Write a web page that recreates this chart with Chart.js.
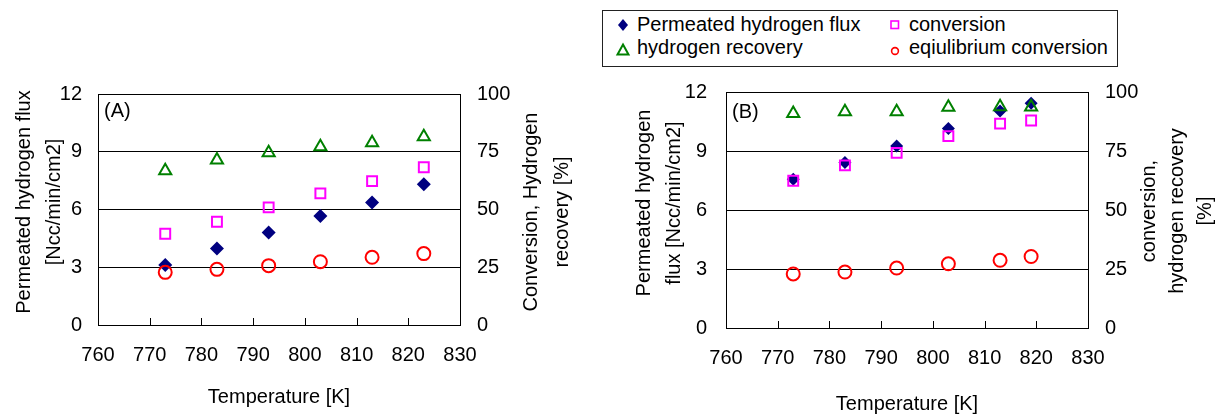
<!DOCTYPE html>
<html><head><meta charset="utf-8">
<script src="https://cdn.jsdelivr.net/npm/chart.js@4/dist/chart.umd.min.js"></script>
<style>
html,body{margin:0;padding:0;background:#fff;}
body{width:1223px;height:418px;position:relative;overflow:hidden;font-family:"Liberation Sans",Arial,sans-serif;}
canvas{position:absolute;top:0;}
#cA{left:0;} #cB{left:611px;}
#legend{position:absolute;left:602px;top:10px;width:516px;height:57px;border:1px solid #222;box-sizing:border-box;background:#fff;}
.li{position:absolute;font-size:20px;line-height:20px;white-space:nowrap;color:#000;}
#legend svg{position:absolute;overflow:visible;}
</style></head><body>
<canvas id="cA" width="611" height="418"></canvas>
<canvas id="cB" width="612" height="418"></canvas>
<div id="legend">
  <svg style="left:14px;top:7px" width="12" height="14"><polygon points="6,1 11,7 6,13 1,7" fill="#000080"/></svg>
  <div class="li" style="left:34px;top:3px">Permeated hydrogen flux</div>
  <svg style="left:13px;top:32px" width="14" height="13"><polygon points="7,1.5 12.5,11.5 1.5,11.5" fill="none" stroke="#008000" stroke-width="2"/></svg>
  <div class="li" style="left:34px;top:26px">hydrogen recovery</div>
  <svg style="left:286px;top:8px" width="12" height="12"><rect x="2" y="2" width="7.5" height="7.5" fill="none" stroke="#FF00FF" stroke-width="1.6"/></svg>
  <div class="li" style="left:306px;top:3px">conversion</div>
  <svg style="left:286px;top:34px" width="12" height="12"><circle cx="6" cy="6" r="3.4" fill="none" stroke="#FF0000" stroke-width="1.6"/></svg>
  <div class="li" style="left:306px;top:26px">eqiulibrium conversion</div>
</div>
<script>
// ---- data ----
const xTicks = [760, 770, 780, 790, 800, 810, 820, 830];
const tempsA = [773, 783, 793, 803, 813, 823];
const fluxA  = [3.12, 3.98, 4.81, 5.66, 6.37, 7.31];
const convA  = [39.5, 44.7, 50.9, 57.0, 62.3, 68.3];
const recA   = [66.8, 71.4, 74.6, 77.2, 78.9, 81.5];
const eqA    = [22.8, 24.1, 25.7, 27.4, 29.3, 30.9];

const tempsB = [773, 783, 793, 803, 813, 819];
const fluxB  = [7.56, 8.41, 9.25, 10.15, 11.04, 11.43];
const convB  = [62.4, 68.9, 74.2, 81.3, 86.6, 87.9];
const recB   = [90.9, 91.6, 91.6, 93.5, 93.7, 93.6];
const eqB    = [22.9, 23.7, 25.4, 27.2, 28.7, 30.3];

const seriesNames = ['Permeated hydrogen flux', 'conversion', 'hydrogen recovery', 'eqiulibrium conversion'];

Chart.defaults.font.family = '"Liberation Sans", Arial, sans-serif';
Chart.defaults.font.size = 20;
Chart.defaults.color = '#000';

const annotCfg = {};

const annot = {
  id: 'annot',
  afterDraw(chart) {
    const opts = annotCfg[chart.canvas.id];
    if (!opts) return;
    const ctx = chart.ctx, ca = chart.chartArea;
    ctx.save();
    ctx.fillStyle = '#000';
    ctx.font = '20px "Liberation Sans", Arial, sans-serif';
    ctx.textAlign = 'left';
    ctx.textBaseline = 'alphabetic';
    ctx.fillText(opts.label, ca.left + opts.labelDx, ca.top + opts.labelDy);
    opts.titles.forEach(t => {
      for (let i = 0; i < t.lines.length; i++) {
        ctx.save();
        ctx.translate(t.x[i], t.cy);
        ctx.rotate(-Math.PI / 2);
        ctx.textAlign = 'center';
        ctx.textBaseline = 'alphabetic';
        ctx.fillText(t.lines[i], 0, 0);
        ctx.restore();
      }
    });
    const xs = chart.scales.x;
    ctx.strokeStyle = '#000';
    ctx.lineWidth = 1;
    xs.ticks.forEach(tk => {
      if (tk.value <= xs.min || tk.value >= xs.max) return;
      const px = Math.round(xs.getPixelForValue(tk.value)) + 0.5;
      ctx.beginPath();
      ctx.moveTo(px, ca.bottom);
      ctx.lineTo(px, ca.bottom - 7);
      ctx.stroke();
    });
    ctx.restore();
  }
};

function pts(xs, ys) { return xs.map((x, i) => ({x: x, y: ys[i]})); }

function makeChart(id, temps, flux, conv, rec, eq, cfg) {
  const clear = 'rgba(0,0,0,0)';
  return new Chart(document.getElementById(id), {
    type: 'scatter',
    data: {
      datasets: [
        {label: seriesNames[3], data: pts(temps, eq), yAxisID: 'y1', pointStyle: 'circle', pointRadius: 6.5, borderColor: '#FF0000', backgroundColor: clear, borderWidth: 2, order: 1},
        {label: seriesNames[2], data: pts(temps, rec), yAxisID: 'y1', pointStyle: 'triangle', pointRadius: 7, borderColor: '#008000', backgroundColor: clear, borderWidth: 2, order: 2},
        {label: seriesNames[1], data: pts(temps, conv), yAxisID: 'y1', pointStyle: 'rect', pointRadius: 7, borderColor: '#FF00FF', backgroundColor: clear, borderWidth: 2, order: 3},
        {label: seriesNames[0], data: pts(temps, flux), yAxisID: 'y', pointStyle: 'rectRot', pointRadius: cfg.diamondR, borderColor: '#000080', backgroundColor: '#000080', borderWidth: 0, order: 4}
      ]
    },
    options: {
      responsive: false,
      animation: false,
      events: [],
      layout: {padding: {top: cfg.top, left: 0, right: 0, bottom: 0}},
      plugins: {
        legend: {display: false},
        tooltip: {enabled: false}
      },
      scales: {
        x: {
          type: 'linear', position: 'bottom', min: 760, max: 830,
          afterBuildTicks: s => { s.ticks = xTicks.map(v => ({value: v})); },
          ticks: {padding: cfg.xPad, font: {size: 20}},
          grid: {drawOnChartArea: false, drawTicks: false},
          border: {display: true, color: '#000', width: 1},
          title: {display: true, text: 'Temperature [K]', font: {size: 20}, padding: {top: 0, bottom: cfg.xTitlePad}},
          afterFit: s => { s.height = cfg.xH; }
        },
        y: {
          position: 'left', min: 0, max: 12,
          ticks: {stepSize: 3, padding: cfg.yPad, font: {size: 20}},
          grid: {color: '#000', lineWidth: 1, drawTicks: false},
          border: {display: true, color: '#000', width: 1},
          afterFit: s => { s.width = cfg.yW; }
        },
        y1: {
          position: 'right', min: 0, max: 100,
          ticks: {stepSize: 25, padding: cfg.y1Pad, font: {size: 20}},
          grid: {drawOnChartArea: false, drawTicks: false},
          border: {display: true, color: '#000', width: 1},
          afterFit: s => { s.width = cfg.y1W; }
        }
      }
    },
    plugins: [annot]
  });
}

annotCfg.cA = {
  label: '(A)', labelDx: 6, labelDy: 23,
  titles: [
    {lines: ['Permeated hydrogen flux', '[Ncc/min/cm2]'], x: [29.5, 59.5], cy: 202},
    {lines: ['Conversion, Hydrogen', 'recovery [%]'], x: [536.5, 568], cy: 212}
  ]
};
annotCfg.cB = {
  label: '(B)', labelDx: 6, labelDy: 26,
  titles: [
    {lines: ['Permeated hydrogen', 'flux [Ncc/min/cm2]'], x: [39, 68.5], cy: 203},
    {lines: ['conversion,', 'hydrogen recovery', '[%]'], x: [544, 572, 600], cy: 211}
  ]
};

makeChart('cA', tempsA, fluxA, convA, recA, eqA, {
  top: 94, xH: 93, yW: 98, y1W: 151, xPad: 18, yPad: 16, y1Pad: 17, xTitlePad: 9, diamondR: 7
});

makeChart('cB', tempsB, fluxB, convB, recB, eqB, {
  top: 92, xH: 90, yW: 115, y1W: 135, xPad: 18, yPad: 19, y1Pad: 17, xTitlePad: 2, diamondR: 6.5
});
</script>
</body></html>
